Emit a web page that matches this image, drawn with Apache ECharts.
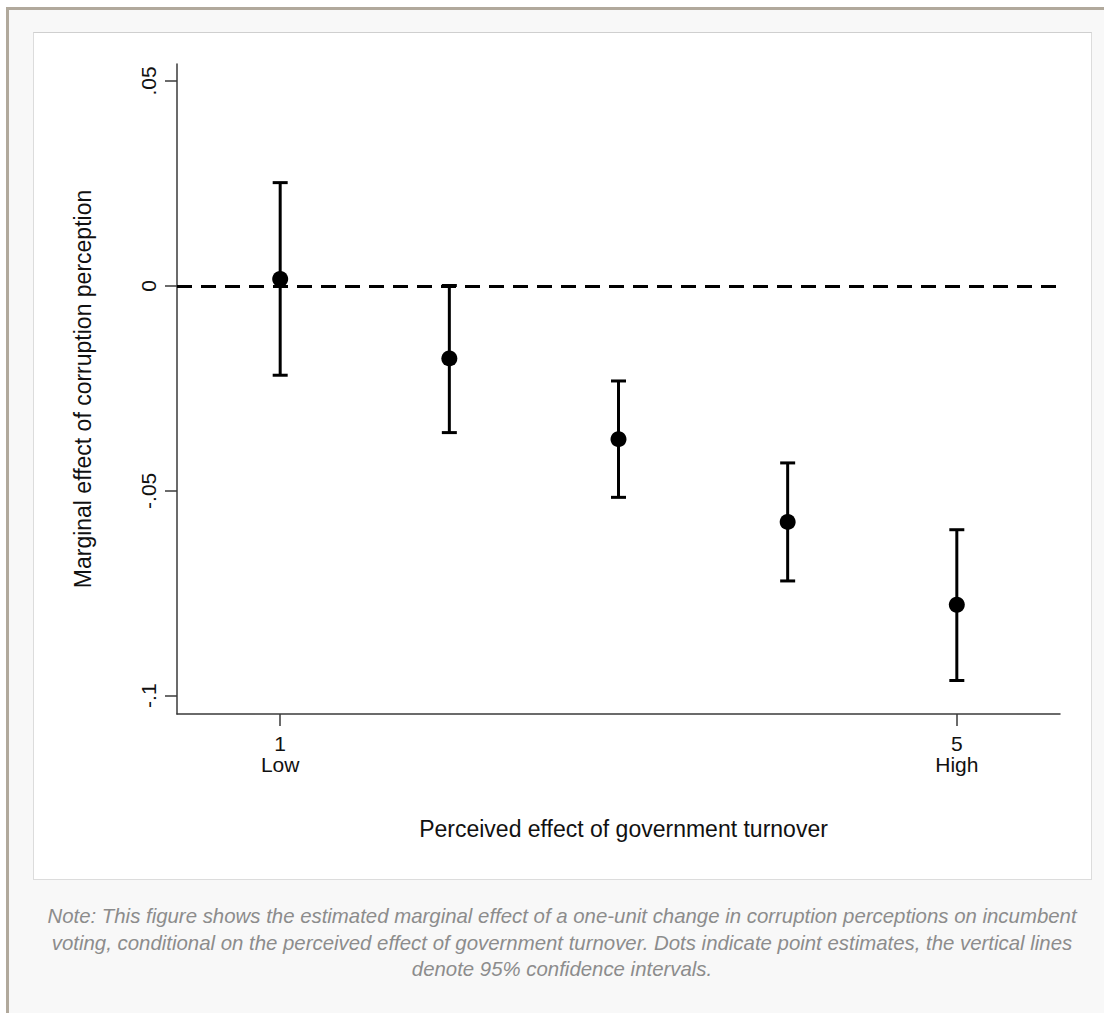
<!DOCTYPE html>
<html>
<head>
<meta charset="utf-8">
<script src="https://cdn.jsdelivr.net/npm/echarts@6/dist/echarts.min.js"></script>
<style>
  html, body { margin: 0; padding: 0; width: 1104px; height: 1013px; background: #ffffff; overflow: hidden; }
  #frame { position: absolute; left: 6px; top: 7px; width: 1098px; height: 1006px;
           border-top: 3px solid #b1a99c; border-left: 3px solid #b1a99c; background: #f8f8f8; }
  #panel { position: absolute; left: 33px; top: 32px; width: 1057px; height: 846px;
           background: #ffffff; border: 1px solid #dcdcdc; border-top-color: #cfcfcf; }
  #chart { position: absolute; left: 0; top: 0; width: 1104px; height: 1013px; }
  #note { position: absolute; left: 20px; width: 1084px; top: 903px; text-align: center;
          font-family: "Liberation Sans", Arial, sans-serif; font-style: italic; font-size: 20.4px;
          line-height: 26.7px; color: #8c8c8c; white-space: nowrap; }
</style>
</head>
<body>
<div id="frame"></div>
<div id="panel"></div>
<div id="chart"></div>
<div id="note">Note: This figure shows the estimated marginal effect of a one-unit change in corruption perceptions on incumbent<br>voting, conditional on the perceived effect of government turnover. Dots indicate point estimates, the vertical lines<br>denote 95% confidence intervals.</div>
<script>
// ---- data ----
const xValues   = [1, 2, 3, 4, 5];
const estimates = [0.0017, -0.0177, -0.0374, -0.0576, -0.0778];
const ciLower   = [-0.0218, -0.0358, -0.0516, -0.0720, -0.0963];
const ciUpper   = [0.0252, 0.0001, -0.0232, -0.0432, -0.0595];
const yTickValues = [-0.1, -0.05, 0, 0.05];
const yTickLabels = ['-.1', '-.05', '0', '.05'];
const xTickValues = [1, 5];
const xTickLabels = ['1\nLow', '5\nHigh'];
const yTitle = 'Marginal effect of corruption perception';
const xTitle = 'Perceived effect of government turnover';

const pointData = xValues.map((x, i) => [x, estimates[i]]);
const ciData = xValues.map((x, i) => [x, ciLower[i], ciUpper[i]]);

const chart = echarts.init(document.getElementById('chart'), null, { renderer: 'svg' });
const font = '"Liberation Sans", Arial, sans-serif';
const axisColor = '#3a3a3a';

chart.setOption({
  backgroundColor: 'transparent',
  animation: false,
  grid: { left: 177, top: 64, right: 44, bottom: 299, containLabel: false },
  xAxis: {
    type: 'value', min: 0.39, max: 5.61,
    name: xTitle, nameLocation: 'middle', nameGap: 103,
    nameTextStyle: { fontFamily: font, fontSize: 23, color: '#111', padding: [0, 0, 0, 10] },
    axisLine: { show: true, onZero: false, lineStyle: { color: axisColor, width: 1.5 } },
    axisTick: { show: true, length: 12, customValues: xTickValues, lineStyle: { color: axisColor, width: 1.5 } },
    axisLabel: {
      customValues: xTickValues, margin: 19, fontFamily: font, fontSize: 21, lineHeight: 21, color: '#111',
      formatter: v => xTickLabels[xTickValues.indexOf(v)]
    },
    splitLine: { show: false }
  },
  yAxis: {
    type: 'value', min: -0.10447, max: 0.05415,
    name: yTitle, nameLocation: 'middle', nameGap: 83, nameRotate: 90,
    nameTextStyle: { fontFamily: font, fontSize: 23, color: '#111' },
    axisLine: { show: true, onZero: false, lineStyle: { color: axisColor, width: 1.5 } },
    axisTick: { show: true, length: 12, customValues: yTickValues, lineStyle: { color: axisColor, width: 1.5 } },
    axisLabel: {
      customValues: yTickValues, rotate: 90, margin: 18, fontFamily: font, fontSize: 21, color: '#111',
      formatter: v => yTickLabels[yTickValues.findIndex(t => Math.abs(t - v) < 1e-9)]
    },
    splitLine: { show: false }
  },
  series: [
    {
      type: 'line', data: [], silent: true,
      markLine: {
        silent: true, symbol: 'none', label: { show: false },
        lineStyle: { color: '#000', width: 3, type: [15, 9] },
        data: [{ yAxis: 0 }]
      },
      z: 1
    },
    {
      type: 'custom', data: ciData, z: 3,
      renderItem: function (params, api) {
        const x = api.value(0);
        const lo = api.coord([x, api.value(1)]);
        const hi = api.coord([x, api.value(2)]);
        const hw = 7.5;
        const st = { stroke: '#000', lineWidth: 3, lineCap: 'butt' };
        return {
          type: 'group',
          children: [
            { type: 'line', shape: { x1: lo[0], y1: lo[1], x2: hi[0], y2: hi[1] }, style: st },
            { type: 'line', shape: { x1: lo[0] - hw, y1: lo[1], x2: lo[0] + hw, y2: lo[1] }, style: st },
            { type: 'line', shape: { x1: hi[0] - hw, y1: hi[1], x2: hi[0] + hw, y2: hi[1] }, style: st }
          ]
        };
      },
      encode: { x: 0, y: [1, 2] }
    },
    {
      type: 'scatter', data: pointData, symbol: 'circle', symbolSize: 16,
      itemStyle: { color: '#000', opacity: 1 }, z: 4
    }
  ]
});
</script>
</body>
</html>
